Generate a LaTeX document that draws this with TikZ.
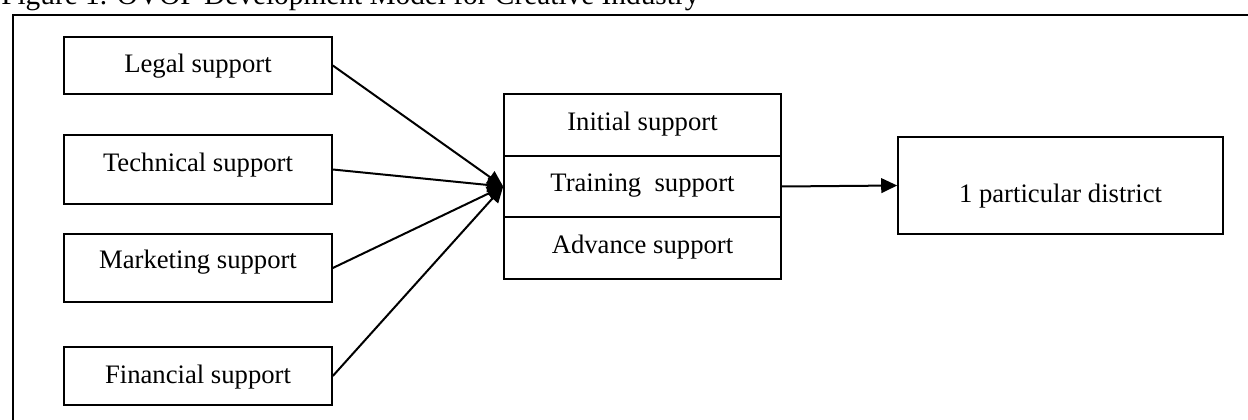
\documentclass[tikz,border=0pt]{standalone}
\usepackage{fontspec}
\setmainfont{Liberation Serif}
\usetikzlibrary{arrows.meta}
\begin{document}
\begin{tikzpicture}[x=0.75pt,y=-0.75pt,
  box/.style={draw=black,line width=1.2pt,rectangle,inner sep=0pt},
  lbl/.style={anchor=base,inner sep=0pt,font=\fontsize{20pt}{24pt}\selectfont},
  link/.style={line width=1.5pt,-{Triangle[length=12pt,width=11pt]}},
  frame/.style={line width=1.6pt}]
  \clip (0,0) rectangle (1248,420);
  % caption, partly cut by the page edge
  \node[anchor=base west,inner sep=0pt,font=\fontsize{22pt}{26pt}\selectfont] (title) at (1,5)
    {Figure 1. OVOP Development Model for Creative Industry};
  % surrounding frame
  \draw[frame] (13,15) rectangle (1280,450);

  % support inputs
  \node[box,minimum width=201pt,minimum height=42.75pt] (legal) at (198,65.5) {};
  \node[box,minimum width=201pt,minimum height=51.75pt] (tech) at (198,169.5) {};
  \node[box,minimum width=201pt,minimum height=51pt] (mkt) at (198,268) {};
  \node[box,minimum width=201pt,minimum height=43.5pt] (fin) at (198,376) {};
  \node[lbl] (legalT) at (198,73) {Legal support};
  \node[lbl] (techT) at (198,172) {Technical support};
  \node[lbl] (mktT) at (198,268) {Marketing support};
  \node[lbl] (finT) at (198,383) {Financial support};

  % staged support stack
  \node[box,minimum width=207.75pt,minimum height=46.5pt] (init) at (642.5,125) {};
  \node[box,minimum width=207.75pt,minimum height=45.75pt] (train) at (642.5,186.5) {};
  \node[box,minimum width=207.75pt,minimum height=46.5pt] (adv) at (642.5,248) {};
  \node[lbl] (initT) at (642.5,131) {Initial support};
  \node[lbl] (trainT) at (642.5,192) {Training\ \ support};
  \node[lbl] (advT) at (642.5,253) {Advance support};

  % outcome
  \node[box,minimum width=243.75pt,minimum height=72.75pt] (dist) at (1060.5,185.5) {};
  \node[lbl] (distT) at (1060.5,203) {1 particular district};

  % connectors
  \draw[link] (legal.east) -- (train.west);
  \draw[link] (tech.east) -- (train.west);
  \draw[link] (mkt.east) -- (train.west);
  \draw[link] (fin.east) -- (train.west);
  \draw[link] (train.east) -- (dist.west);
\end{tikzpicture}
\end{document}
